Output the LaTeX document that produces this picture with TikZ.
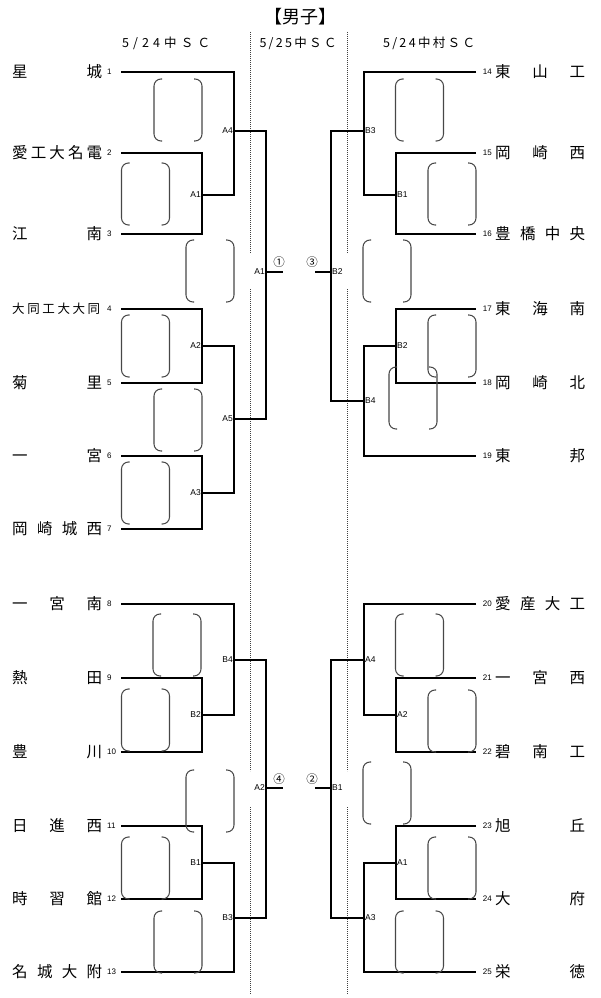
\documentclass[tikz,border=0pt]{standalone}
\usepackage{fontspec}
\usepackage{tikz}
\usetikzlibrary{positioning}
\newfontfamily\jpfont{Noto Sans CJK JP}
\newfontfamily\lblfont{Liberation Sans}
\newcommand{\spreadto}[2]{\makebox[#1][s]{#2}}

\begin{document}
\begin{tikzpicture}[x=1pt, y=-1pt,
      bline/.style = {line width=1.15pt, black},
      bracket/.style = {line width=1.05pt, black!72, rounded corners=7pt},
      sepline/.style = {line width=0.6pt, black!75, dash pattern=on 0.8pt off 1.2pt},
      title/.style = {inner sep=0pt, font=\jpfont\fontsize{18}{18}\selectfont},
      venue/.style = {inner sep=0pt, font=\jpfont\fontsize{12.5}{13}\selectfont},
      team/.style = {anchor=west, inner sep=0pt, font=\jpfont\fontsize{15.5}{16}\selectfont},
      smallteam/.style = {team, font=\jpfont\fontsize{12.5}{13}\selectfont},
      seedL/.style = {anchor=west, inner sep=0pt, font=\lblfont\fontsize{8}{8}\selectfont},
      seedR/.style = {seedL, anchor=east},
      matchL/.style = {anchor=east, inner sep=1pt, font=\lblfont\fontsize{8.5}{9}\selectfont},
      matchR/.style = {matchL, anchor=west},
      roundno/.style = {inner sep=0pt, font=\jpfont\fontsize{11.5}{12}\selectfont},
      scorepair/.pic = {
        \draw[bracket] (-16,-31) -- (-24,-31) -- (-24,31) -- (-16,31);
        \draw[bracket] (16,-31) -- (24,-31) -- (24,31) -- (16,31);
      }]
    \useasboundingbox (0,0) rectangle (600,998);

    \node[title] (head) at (300,17) {【男子】};
    \node[venue] (day1) at (166,43) {\spreadto{88pt}{5\hfill{}/\hfill{}2\hfill{}4\hfill{}中\hfill{}Ｓ\hfill{}Ｃ}};
    \node[venue] (day2) at (298,43) {\spreadto{77pt}{5\hfill{}/\hfill{}2\hfill{}5\hfill{}中\hfill{}Ｓ\hfill{}Ｃ}};
    \node[venue] (day3) at (429,43) {\spreadto{92pt}{5\hfill{}/\hfill{}2\hfill{}4\hfill{}中\hfill{}村\hfill{}Ｓ\hfill{}Ｃ}};

    \draw[sepline] (250,32) -- (250,253) (250,289) -- (250,771) (250,807) -- (250,994);
    \draw[sepline] (347,32) -- (347,253) (347,289) -- (347,771) (347,807) -- (347,994);

    \node[team] (n1) at (12,72) {\spreadto{90pt}{星\hfill{}城}};
    \node[team] (n2) at (12,153) {\spreadto{90pt}{愛\hfill{}工\hfill{}大\hfill{}名\hfill{}電}};
    \node[team] (n3) at (12,234) {\spreadto{90pt}{江\hfill{}南}};
    \node[smallteam] (n4) at (12,309) {\spreadto{88pt}{大\hfill{}同\hfill{}工\hfill{}大\hfill{}大\hfill{}同}};
    \node[team] (n5) at (12,383) {\spreadto{90pt}{菊\hfill{}里}};
    \node[team] (n6) at (12,456) {\spreadto{90pt}{一\hfill{}宮}};
    \node[team] (n7) at (12,529) {\spreadto{90pt}{岡\hfill{}崎\hfill{}城\hfill{}西}};
    \node[team] (n8) at (12,604) {\spreadto{90pt}{一\hfill{}宮\hfill{}南}};
    \node[team] (n9) at (12,678) {\spreadto{90pt}{熱\hfill{}田}};
    \node[team] (n10) at (12,752) {\spreadto{90pt}{豊\hfill{}川}};
    \node[team] (n11) at (12,826) {\spreadto{90pt}{日\hfill{}進\hfill{}西}};
    \node[team] (n12) at (12,899) {\spreadto{90pt}{時\hfill{}習\hfill{}館}};
    \node[team] (n13) at (12,972) {\spreadto{90pt}{名\hfill{}城\hfill{}大\hfill{}附}};

    \node[team] (n14) at (495,72) {\spreadto{90pt}{東\hfill{}山\hfill{}工}};
    \node[team] (n15) at (495,153) {\spreadto{90pt}{岡\hfill{}崎\hfill{}西}};
    \node[team] (n16) at (495,234) {\spreadto{90pt}{豊\hfill{}橋\hfill{}中\hfill{}央}};
    \node[team] (n17) at (495,309) {\spreadto{90pt}{東\hfill{}海\hfill{}南}};
    \node[team] (n18) at (495,383) {\spreadto{90pt}{岡\hfill{}崎\hfill{}北}};
    \node[team] (n19) at (495,456) {\spreadto{90pt}{東\hfill{}邦}};
    \node[team] (n20) at (495,604) {\spreadto{90pt}{愛\hfill{}産\hfill{}大\hfill{}工}};
    \node[team] (n21) at (495,678) {\spreadto{90pt}{一\hfill{}宮\hfill{}西}};
    \node[team] (n22) at (495,752) {\spreadto{90pt}{碧\hfill{}南\hfill{}工}};
    \node[team] (n23) at (495,826) {\spreadto{90pt}{旭\hfill{}丘}};
    \node[team] (n24) at (495,899) {\spreadto{90pt}{大\hfill{}府}};
    \node[team] (n25) at (495,972) {\spreadto{90pt}{栄\hfill{}徳}};

    \node[seedL] (s1) at (107,72) {1};
    \node[seedL] (s2) at (107,153) {2};
    \node[seedL] (s3) at (107,234) {3};
    \node[seedL] (s4) at (107,309) {4};
    \node[seedL] (s5) at (107,383) {5};
    \node[seedL] (s6) at (107,456) {6};
    \node[seedL] (s7) at (107,529) {7};
    \node[seedL] (s8) at (107,604) {8};
    \node[seedL] (s9) at (107,678) {9};
    \node[seedL] (s10) at (107,752) {10};
    \node[seedL] (s11) at (107,826) {11};
    \node[seedL] (s12) at (107,899) {12};
    \node[seedL] (s13) at (107,972) {13};
    \node[seedR] (s14) at (492,72) {14};
    \node[seedR] (s15) at (492,153) {15};
    \node[seedR] (s16) at (492,234) {16};
    \node[seedR] (s17) at (492,309) {17};
    \node[seedR] (s18) at (492,383) {18};
    \node[seedR] (s19) at (492,456) {19};
    \node[seedR] (s20) at (492,604) {20};
    \node[seedR] (s21) at (492,678) {21};
    \node[seedR] (s22) at (492,752) {22};
    \node[seedR] (s23) at (492,826) {23};
    \node[seedR] (s24) at (492,899) {24};
    \node[seedR] (s25) at (492,972) {25};

    \coordinate (p1) at (121,72);
    \coordinate (p2) at (121,153);
    \coordinate (p3) at (121,234);
    \coordinate (p4) at (121,309);
    \coordinate (p5) at (121,383);
    \coordinate (p6) at (121,456);
    \coordinate (p7) at (121,529);
    \coordinate (p8) at (121,604);
    \coordinate (p9) at (121,678);
    \coordinate (p10) at (121,752);
    \coordinate (p11) at (121,826);
    \coordinate (p12) at (121,899);
    \coordinate (p13) at (121,972);
    \coordinate (p14) at (476,72);
    \coordinate (p15) at (476,153);
    \coordinate (p16) at (476,234);
    \coordinate (p17) at (476,309);
    \coordinate (p18) at (476,383);
    \coordinate (p19) at (476,456);
    \coordinate (p20) at (476,604);
    \coordinate (p21) at (476,678);
    \coordinate (p22) at (476,752);
    \coordinate (p23) at (476,826);
    \coordinate (p24) at (476,899);
    \coordinate (p25) at (476,972);

    \coordinate (tlA1) at (202,195);
    \coordinate (tlA2) at (202,346);
    \coordinate (tlA3) at (202,493);
    \coordinate (tlA4) at (234,131);
    \coordinate (tlA5) at (234,419);
    \coordinate (tlF) at (266,272);
    \coordinate (tlE) at (283,272);
    \coordinate (blB2) at (202,715);
    \coordinate (blB1) at (202,863);
    \coordinate (blB4) at (234,660);
    \coordinate (blB3) at (234,918);
    \coordinate (blF) at (266,788);
    \coordinate (blE) at (283,788);
    \coordinate (trB1) at (396,195);
    \coordinate (trB2) at (396,346);
    \coordinate (trB3) at (364,131);
    \coordinate (trB4) at (364,401);
    \coordinate (trF) at (331,272);
    \coordinate (trE) at (315,272);
    \coordinate (brA2) at (396,715);
    \coordinate (brA1) at (396,863);
    \coordinate (brA4) at (364,660);
    \coordinate (brA3) at (364,918);
    \coordinate (brF) at (331,788);
    \coordinate (brE) at (315,788);

    \draw[bline] (p2) -| (tlA1) |- (p3);
    \draw[bline] (p4) -| (tlA2) |- (p5);
    \draw[bline] (p6) -| (tlA3) |- (p7);
    \draw[bline] (p1) -| (tlA4) |- (tlA1);
    \draw[bline] (tlA2) -| (tlA5) |- (tlA3);
    \draw[bline] (tlA4) -| (tlF) |- (tlA5);
    \draw[bline] (tlF) -- (tlE);

    \draw[bline] (p9) -| (blB2) |- (p10);
    \draw[bline] (p11) -| (blB1) |- (p12);
    \draw[bline] (p8) -| (blB4) |- (blB2);
    \draw[bline] (blB1) -| (blB3) |- (p13);
    \draw[bline] (blB4) -| (blF) |- (blB3);
    \draw[bline] (blF) -- (blE);

    \draw[bline] (p15) -| (trB1) |- (p16);
    \draw[bline] (p17) -| (trB2) |- (p18);
    \draw[bline] (p14) -| (trB3) |- (trB1);
    \draw[bline] (trB2) -| (trB4) |- (p19);
    \draw[bline] (trB3) -| (trF) |- (trB4);
    \draw[bline] (trF) -- (trE);

    \draw[bline] (p21) -| (brA2) |- (p22);
    \draw[bline] (p23) -| (brA1) |- (p24);
    \draw[bline] (p20) -| (brA4) |- (brA2);
    \draw[bline] (brA1) -| (brA3) |- (p25);
    \draw[bline] (brA4) -| (brF) |- (brA3);
    \draw[bline] (brF) -- (brE);

    \node[matchL] (mtlA1) at (tlA1) {A1};
    \node[matchL] (mtlA2) at (tlA2) {A2};
    \node[matchL] (mtlA3) at (tlA3) {A3};
    \node[matchL] (mtlA4) at (tlA4) {A4};
    \node[matchL] (mtlA5) at (tlA5) {A5};
    \node[matchL] (mtlF) at (tlF) {A1};
    \node[matchL] (mblB2) at (blB2) {B2};
    \node[matchL] (mblB1) at (blB1) {B1};
    \node[matchL] (mblB4) at (blB4) {B4};
    \node[matchL] (mblB3) at (blB3) {B3};
    \node[matchL] (mblF) at (blF) {A2};
    \node[matchR] (mtrB1) at (trB1) {B1};
    \node[matchR] (mtrB2) at (trB2) {B2};
    \node[matchR] (mtrB3) at (trB3) {B3};
    \node[matchR] (mtrB4) at (trB4) {B4};
    \node[matchR] (mtrF) at (trF) {B2};
    \node[matchR] (mbrA2) at (brA2) {A2};
    \node[matchR] (mbrA1) at (brA1) {A1};
    \node[matchR] (mbrA4) at (brA4) {A4};
    \node[matchR] (mbrA3) at (brA3) {A3};
    \node[matchR] (mbrF) at (brF) {B1};

    \node[roundno] (r1) at (279,262) {①};
    \node[roundno] (r3) at (312,262) {③};
    \node[roundno] (r4) at (279,779) {④};
    \node[roundno] (r2) at (312,779) {②};

    \pic at (178,110) {scorepair};
    \pic at (145.5,194) {scorepair};
    \pic at (210,271) {scorepair};
    \pic at (145.5,346) {scorepair};
    \pic at (178,420) {scorepair};
    \pic at (145.5,493) {scorepair};
    \pic at (177,645) {scorepair};
    \pic at (145.5,720) {scorepair};
    \pic at (210,801) {scorepair};
    \pic at (145.5,868) {scorepair};
    \pic at (178,942) {scorepair};
    \pic at (419.5,110) {scorepair};
    \pic at (452,194) {scorepair};
    \pic at (387,271) {scorepair};
    \pic at (452,346) {scorepair};
    \pic at (413,398) {scorepair};
    \pic at (419.5,645) {scorepair};
    \pic at (452,721) {scorepair};
    \pic at (387,793) {scorepair};
    \pic at (452,868) {scorepair};
    \pic at (419.5,942) {scorepair};
\end{tikzpicture}
\end{document}
